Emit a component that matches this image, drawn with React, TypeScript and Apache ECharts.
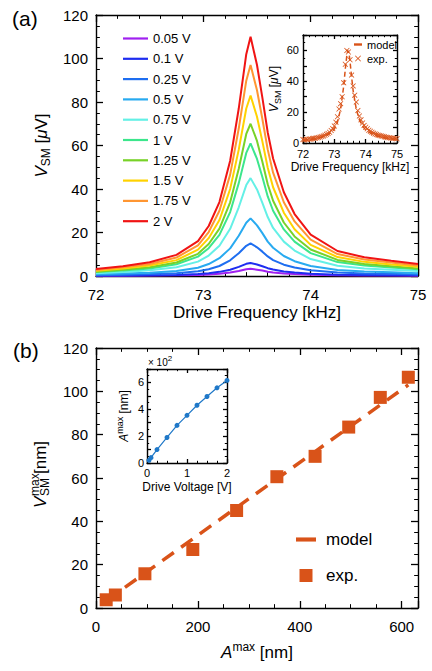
import React, { useEffect, useRef } from "react";
import * as echarts from "echarts";

// ---------- (a) main panel data ----------
const freqs = [72.0, 72.25, 72.5, 72.75, 72.95, 73.05, 73.15, 73.25, 73.33, 73.4, 73.44, 73.5, 73.55, 73.6, 73.65, 73.75, 73.85, 74.0, 74.25, 74.5, 74.75, 75.0];
const driveLabels = ["0.05 V", "0.1 V", "0.25 V", "0.5 V", "0.75 V", "1 V", "1.25 V", "1.5 V", "1.75 V", "2 V"];
const v005 = [0.1, 0.14, 0.19, 0.29, 0.48, 0.7, 1.0, 1.6, 2.3, 3.1, 3.3, 2.9, 2.5, 2.0, 1.6, 1.2, 0.9, 0.6, 0.35, 0.26, 0.2, 0.17];
const v01 = [0.2, 0.25, 0.35, 0.5, 0.9, 1.3, 1.9, 2.9, 4.2, 5.6, 6.0, 5.3, 4.5, 3.6, 3.0, 2.1, 1.6, 1.0, 0.6, 0.5, 0.4, 0.3];
const v025 = [0.4, 0.6, 0.9, 1.3, 2.2, 3.1, 4.6, 7.2, 10.5, 13.9, 15.0, 13.2, 11.2, 9.0, 7.3, 5.2, 3.9, 2.6, 1.6, 1.2, 1.0, 0.7];
const v05 = [0.8, 1.1, 1.5, 2.3, 3.8, 5.5, 8.2, 12.7, 18.5, 24.5, 26.5, 23.3, 19.7, 15.8, 13.0, 9.2, 6.8, 4.6, 2.8, 2.1, 1.7, 1.3];
const v075 = [1.3, 1.8, 2.6, 4.0, 6.6, 9.4, 13.9, 21.7, 31.6, 41.8, 45.0, 39.8, 33.6, 27.1, 22.1, 15.8, 11.7, 7.8, 4.7, 3.5, 2.9, 2.3];
const v1 = [1.8, 2.5, 3.5, 5.4, 8.9, 12.8, 18.9, 29.4, 42.7, 56.6, 61.0, 53.8, 45.5, 36.6, 30.0, 21.4, 15.8, 10.5, 6.4, 4.8, 3.9, 3.1];
const v125 = [2.0, 2.9, 4.0, 6.2, 10.2, 14.7, 21.8, 33.9, 49.3, 65.3, 70.0, 62.1, 52.5, 42.2, 34.6, 24.6, 18.2, 12.2, 7.4, 5.5, 4.5, 3.5];
const v15 = [2.4, 3.4, 4.8, 7.3, 12.1, 17.4, 25.7, 40.0, 58.1, 77.0, 83.0, 73.2, 61.9, 49.8, 40.8, 29.1, 21.5, 14.3, 8.7, 6.5, 5.3, 4.2];
const v175 = [2.8, 4.0, 5.5, 8.5, 14.1, 20.2, 30.0, 46.6, 67.8, 89.8, 97.0, 85.4, 72.2, 58.1, 47.5, 33.9, 25.1, 16.7, 10.1, 7.6, 6.2, 4.8];
const v2 = [3.2, 4.5, 6.3, 9.7, 16.0, 23.0, 34.0, 53.0, 77.0, 102.0, 110.0, 97.0, 82.0, 66.0, 54.0, 38.5, 28.5, 19.0, 11.5, 8.6, 7.0, 5.5];
const curves = [v005, v01, v025, v05, v075, v1, v125, v15, v175, v2];
const curveColors = ["#a020f0", "#1e2df0", "#1e6ef0", "#28aaf0", "#64f0e6", "#3ce68c", "#78d228", "#ffd200", "#ff9632", "#f01414"];

// ---------- (a) inset data ----------
const insetExpFreq = [72.0, 72.05, 72.1, 72.15, 72.2, 72.25, 72.3, 72.35, 72.4, 72.45, 72.5, 72.55, 72.6, 72.65, 72.7, 72.75, 72.8, 72.85, 72.9, 72.95, 73.0, 73.05, 73.1, 73.15, 73.2, 73.25, 73.3, 73.35, 73.4, 73.45, 73.5, 73.55, 73.6, 73.65, 73.7, 73.75, 73.8, 73.85, 73.9, 73.95, 74.0, 74.05, 74.1, 74.15, 74.2, 74.25, 74.3, 74.35, 74.4, 74.45, 74.5, 74.55, 74.6, 74.65, 74.7, 74.75, 74.8, 74.85, 74.9, 74.95, 75.0];
const insetExpV = [2.2, 2.0, 2.4, 2.3, 2.6, 2.5, 2.9, 3.0, 3.1, 3.4, 3.6, 3.9, 4.2, 4.6, 5.0, 5.6, 6.2, 7.0, 8.1, 9.3, 11.0, 13.5, 17.0, 22.0, 25.5, 30.0, 39.0, 51.0, 60.0, 59.0, 54.0, 44.0, 37.0, 31.0, 26.5, 21.0, 17.5, 15.0, 13.0, 11.4, 10.2, 9.2, 8.3, 7.6, 7.0, 6.4, 5.9, 5.5, 5.1, 4.8, 4.5, 4.3, 4.0, 3.8, 3.6, 3.4, 3.3, 3.1, 3.0, 2.9, 2.8];
const insetModelFreq = [72.0, 72.25, 72.5, 72.75, 72.9, 73.0, 73.1, 73.2, 73.3, 73.35, 73.4, 73.43, 73.47, 73.5, 73.55, 73.6, 73.7, 73.8, 73.9, 74.0, 74.25, 74.5, 74.75, 75.0];
const insetModelV = [1.8, 2.3, 3.1, 4.8, 6.8, 9.0, 13.5, 22.0, 37.0, 48.0, 57.0, 60.0, 58.0, 53.0, 43.0, 34.0, 22.0, 15.0, 11.0, 8.5, 5.2, 3.7, 2.8, 2.3];

// ---------- (b) data ----------
const driveVoltage = [0.05, 0.1, 0.25, 0.5, 0.75, 1.0, 1.25, 1.5, 1.75, 2.0];
const aMaxHundreds = [0.2, 0.4, 1.0, 1.9, 2.8, 3.55, 4.3, 4.95, 5.6, 6.15];
const aMaxNm = [20, 38, 96, 190, 276, 355, 430, 496, 558, 613];
const vsmMaxExp = [3.8, 6.0, 15.8, 27.0, 45.0, 60.6, 70.0, 83.5, 97.2, 106.5];
const vsmMaxModel = [3.4, 6.4, 16.1, 31.9, 46.4, 59.6, 72.2, 83.3, 93.7, 103.0];

const FONT = "'Liberation Sans', Arial, Helvetica, sans-serif";
const ORANGE = "#d95319";
const BLUE = "#1f78c8";

function mkAxis(grid: number, pos: string, min: number, max: number, interval: number, minorSplit: number,
  showLabel: boolean, fs: number, tickLen: number, margin: number, fmt?: any, extra: any = {}) {
  return {
    type: "value", gridIndex: grid, position: pos, min, max, interval,
    axisLine: { show: true, onZero: false, lineStyle: { color: "#000", width: 1.4 } },
    axisTick: { show: true, inside: true, length: tickLen, lineStyle: { color: "#000", width: 1.3 } },
    minorTick: { show: minorSplit > 0, splitNumber: minorSplit || 5, length: tickLen * 0.55, lineStyle: { color: "#000", width: 1 } },
    axisLabel: { show: showLabel, fontSize: fs, color: "#000", margin, fontFamily: FONT, ...(fmt ? { formatter: fmt } : {}) },
    splitLine: { show: false },
    minorSplitLine: { show: false },
    ...extra,
  };
}

const rich = (big: number, small: number) => ({
  v: { fontSize: big, fontStyle: "italic", fontFamily: FONT, color: "#000" },
  t: { fontSize: big, fontFamily: FONT, color: "#000" },
  mu: { fontSize: big, fontStyle: "italic", fontFamily: FONT, color: "#000" },
  sub: { fontSize: small, fontFamily: FONT, color: "#000", padding: [Math.round(small * 0.85), 0, 0, 0] },
  sup: { fontSize: small, fontFamily: FONT, color: "#000", padding: [0, 0, Math.round(small * 0.85), 0] },
});

export default function App() {
  const ref = useRef<HTMLDivElement>(null);
  useEffect(() => {
    document.body.style.margin = "0";
    const chart = echarts.init(ref.current!, null, { renderer: "svg" });
    const series: any[] = [];
    curves.forEach((vals, i) => {
      series.push({
        type: "line", name: driveLabels[i], xAxisIndex: 0, yAxisIndex: 0,
        data: freqs.map((f, k) => [f, vals[k]]), symbol: "none",
        lineStyle: { width: 2, color: curveColors[i] }, itemStyle: { color: curveColors[i] }, z: 2 + i,
      });
    });
    series.push({
      type: "line", name: "model ", xAxisIndex: 2, yAxisIndex: 2,
      data: insetModelFreq.map((f, k) => [f, insetModelV[k]]), symbol: "none",
      lineStyle: { width: 1.5, color: ORANGE, type: [5, 3] }, itemStyle: { color: ORANGE }, z: 20,
    });
    series.push({
      type: "scatter", name: "exp. ", xAxisIndex: 2, yAxisIndex: 2,
      data: insetExpFreq.map((f, k) => [f, insetExpV[k]]),
      symbol: "path://M0,1L1,0L5,4L9,0L10,1L6,5L10,9L9,10L5,6L1,10L0,9L4,5Z", symbolSize: 5.5,
      itemStyle: { color: ORANGE, opacity: 1 }, z: 21,
    });
    series.push({
      type: "line", name: "model", xAxisIndex: 4, yAxisIndex: 4,
      data: aMaxNm.map((a, k) => [a, vsmMaxModel[k]]), symbol: "none",
      lineStyle: { width: 3.5, color: ORANGE, type: [14, 9] }, itemStyle: { color: ORANGE }, z: 20,
    });
    series.push({
      type: "scatter", name: "exp.", xAxisIndex: 4, yAxisIndex: 4,
      data: aMaxNm.map((a, k) => [a, vsmMaxExp[k]]), symbol: "rect", symbolSize: 13,
      itemStyle: { color: ORANGE, opacity: 1 }, z: 21, clip: false,
    });
    series.push({
      type: "line", name: "Amax", xAxisIndex: 6, yAxisIndex: 6,
      data: driveVoltage.map((v, k) => [v, aMaxHundreds[k]]), symbol: "circle", symbolSize: 5, showSymbol: true,
      lineStyle: { width: 1.2, color: BLUE }, itemStyle: { color: BLUE }, z: 30,
    });

    const evenOnly = (v: number) => (Math.abs(v % 2) < 1e-6 ? String(v) : "");
    const by20 = (v: number) => (Math.abs(v % 20) < 1e-6 ? String(v) : "");
    const by200 = (v: number) => (Math.abs(v % 200) < 1e-6 ? String(v) : "");

    const option: any = {
      animation: false,
      backgroundColor: "#fff",
      grid: [
        { left: 96, top: 15, width: 322, height: 261 },
        { left: 303, top: 35, width: 94, height: 108, show: true, backgroundColor: "#fff", borderWidth: 0, z: 5 },
        { left: 96, top: 348, width: 322, height: 260 },
        { left: 147, top: 369, width: 80, height: 94, show: true, backgroundColor: "#fff", borderWidth: 0, z: 5 },
      ],
      xAxis: [
        mkAxis(0, "bottom", 72, 75, 1, 5, true, 15, 7, 11, undefined, {
          name: "Drive Frequency [kHz]", nameLocation: "middle", nameGap: 28,
          nameTextStyle: { fontSize: 17, fontFamily: FONT, color: "#000" },
        }),
        mkAxis(0, "top", 72, 75, 1, 5, false, 15, 7, 11),
        mkAxis(1, "bottom", 72, 75, 1, 5, true, 11, 4, 5, undefined, {
          name: "Drive Frequency [kHz]", nameLocation: "middle", nameGap: 18,
          nameTextStyle: { fontSize: 12, fontFamily: FONT, color: "#000" }, z: 6,
        }),
        mkAxis(1, "top", 72, 75, 1, 5, false, 11, 4, 4, undefined, { z: 6 }),
        mkAxis(2, "bottom", 0, 632, 200, 4, true, 15, 7, 11, by200, {
          name: "{v|A}{sup|max} {t|[nm]}", nameLocation: "middle", nameGap: 33,
          nameTextStyle: { fontSize: 17, fontFamily: FONT, color: "#000", rich: rich(17, 12) },
        }),
        mkAxis(2, "top", 0, 632, 200, 4, false, 15, 7, 11),
        mkAxis(3, "bottom", 0, 2, 1, 4, true, 11, 4, 4, undefined, {
          name: "Drive Voltage [V]", nameLocation: "middle", nameGap: 18,
          nameTextStyle: { fontSize: 12, fontFamily: FONT, color: "#000" }, z: 6,
        }),
        mkAxis(3, "top", 0, 2, 1, 4, false, 11, 4, 4, undefined, { z: 6 }),
      ],
      yAxis: [
        mkAxis(0, "left", 0, 120, 20, 4, true, 15, 7, 8, undefined, {
          name: "{v|V}{sub|SM} {t|[}{mu|μ}{t|V]}", nameLocation: "middle", nameGap: 41,
          nameTextStyle: { fontSize: 17, fontFamily: FONT, color: "#000", rich: rich(17, 12) },
        }),
        mkAxis(0, "right", 0, 120, 20, 4, false, 15, 7, 8),
        mkAxis(1, "left", 0, 70, 10, 2, true, 11, 4, 4, by20, {
          name: "{v|V}{sub|SM} {t|[}{mu|μ}{t|V]}", nameLocation: "middle", nameGap: 17,
          nameTextStyle: { fontSize: 12, fontFamily: FONT, color: "#000", rich: rich(12, 9) }, z: 6,
        }),
        mkAxis(1, "right", 0, 70, 10, 2, false, 11, 4, 3, undefined, { z: 6 }),
        mkAxis(2, "left", 0, 120, 20, 4, true, 15, 7, 8),
        mkAxis(2, "right", 0, 120, 20, 4, false, 15, 7, 8),
        mkAxis(3, "left", 0, 7, 1, 2, true, 11, 4, 3, evenOnly, {
          name: "{v|A}{sup|max} {t|[nm]}", nameLocation: "middle", nameGap: 15,
          nameTextStyle: { fontSize: 12, fontFamily: FONT, color: "#000", rich: rich(12, 9) }, z: 6,
        }),
        mkAxis(3, "right", 0, 7, 1, 2, false, 11, 4, 3, undefined, { z: 6 }),
      ],
      legend: [
        {
          data: driveLabels.map((n) => ({ name: n, icon: "path://M0,0h25v2.2h-25z" })),
          orient: "vertical", left: 123, top: 32, padding: 0, symbolKeepAspect: true,
          itemWidth: 25, itemHeight: 13, itemGap: 7.3, selectedMode: false,
          textStyle: { fontSize: 13, fontFamily: FONT, color: "#000" },
        },
        {
          data: [{ name: "model ", icon: "path://M0,0h5v1.5h-5z" }, { name: "exp. " }],
          orient: "vertical", left: 354, top: 39, padding: 0, symbolKeepAspect: true,
          itemWidth: 8, itemHeight: 6, itemGap: 3, selectedMode: false, z: 10,
          formatter: (n: string) => n.trim(),
          textStyle: { fontSize: 11, fontFamily: FONT, color: "#000" },
        },
        {
          data: [{ name: "model", icon: "path://M0,0h17v3.5h-17z" }, { name: "exp.", icon: "path://M0,0h10v10h-10z" }],
          orient: "vertical", left: 296, top: 531, padding: 0, symbolKeepAspect: true,
          itemWidth: 20, itemHeight: 13, itemGap: 19, selectedMode: false,
          textStyle: { fontSize: 17, fontFamily: FONT, color: "#000", padding: [0, 0, 0, 5] },
        },
      ],
      graphic: [
        { type: "text", left: 12, top: 8, style: { text: "(a)", font: `21px ${FONT}`, fill: "#000" } },
        { type: "text", left: 13, top: 340, style: { text: "(b)", font: `21px ${FONT}`, fill: "#000" } },
        {
          type: "text", x: 148, y: 362, z: 10,
          style: {
            text: "{a|× 10}{b|2}", fill: "#000", textVerticalAlign: "middle",
            rich: { a: { fontSize: 10, fontFamily: FONT, fill: "#000" }, b: { fontSize: 8, fontFamily: FONT, fill: "#000", padding: [0, 0, 7, 0] } },
          },
        },
        {
          type: "group", x: 40, y: 472, rotation: Math.PI / 2,
          children: [
            { type: "text", x: -36, y: 0, style: { text: "V", font: `italic 17px ${FONT}`, fill: "#000", textVerticalAlign: "middle" } },
            { type: "text", x: -24, y: -5, style: { text: "max", font: `12px ${FONT}`, fill: "#000", textVerticalAlign: "middle" } },
            { type: "text", x: -24, y: 5, style: { text: "SM", font: `12px ${FONT}`, fill: "#000", textVerticalAlign: "middle" } },
            { type: "text", x: -2, y: 0, style: { text: "[nm]", font: `17px ${FONT}`, fill: "#000", textVerticalAlign: "middle" } },
          ],
        },
      ],
      series,
    };
    chart.setOption(option);
    return () => chart.dispose();
  }, []);
  return <div ref={ref} style={{ width: 432, height: 671 }} />;
}
